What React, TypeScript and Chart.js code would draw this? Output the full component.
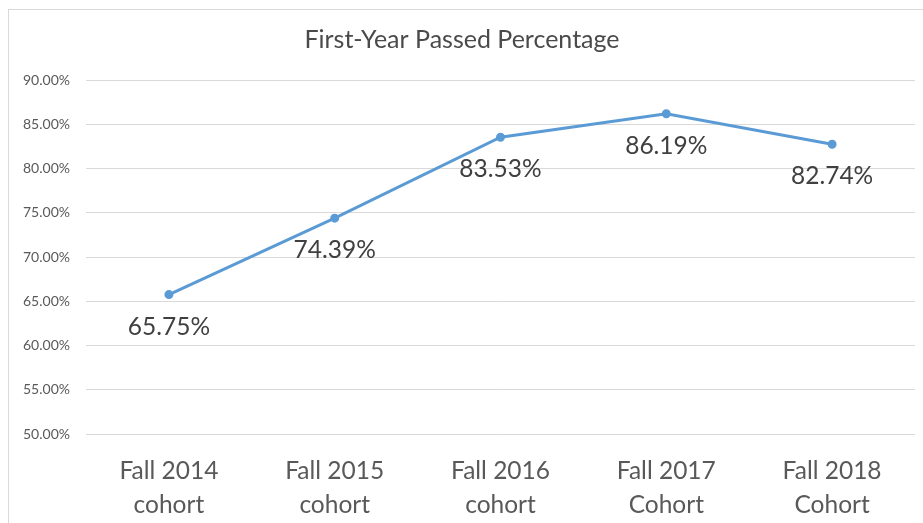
import React, { useEffect, useRef } from "react";
import { Chart, registerables } from "chart.js";

Chart.register(...registerables);

const categories: string[][] = [
  ["Fall 2014", "cohort"],
  ["Fall 2015", "cohort"],
  ["Fall 2016", "cohort"],
  ["Fall 2017", "Cohort"],
  ["Fall 2018", "Cohort"],
];
const passedPct: number[] = [65.75, 74.39, 83.53, 86.19, 82.74];
const chartTitle = "First-Year Passed Percentage";
const yMin = 50;
const yMax = 90;
const yStep = 5;

const FONT = "Lato, 'Open Sans', sans-serif";

const labelPlugin = {
  id: "pointLabels",
  afterDatasetsDraw(chart: any) {
    const meta = chart.getDatasetMeta(0);
    const ctx = chart.ctx;
    ctx.save();
    ctx.font = `24.5px ${FONT}`;
    ctx.fillStyle = "#404040";
    ctx.textAlign = "center";
    ctx.textBaseline = "middle";
    meta.data.forEach((pt: any, i: number) => {
      const v = chart.data.datasets[0].data[i] as number;
      ctx.fillText(v.toFixed(2) + "%", pt.x, pt.y + 32);
    });
    ctx.restore();
  },
};

export default function App() {
  const ref = useRef<HTMLCanvasElement | null>(null);
  useEffect(() => {
    if (!ref.current) return;
    const chart = new Chart(ref.current, {
      type: "line",
      data: {
        labels: categories,
        datasets: [
          {
            data: passedPct,
            borderColor: "#5B9BD5",
            backgroundColor: "#5B9BD5",
            borderWidth: 3,
            pointRadius: 3,
            pointHoverRadius: 3,
            tension: 0,
          },
        ],
      },
      options: {
        animation: false,
        responsive: false,
        layout: { padding: { left: 0, right: 8, top: 8, bottom: 0 } },
        plugins: {
          legend: { display: false },
          tooltip: { enabled: false },
          title: {
            display: true,
            text: chartTitle,
            color: "#4a4a4a",
            font: { family: FONT, size: 25, weight: "normal" },
            padding: { top: 7, bottom: 25 },
          },
        },
        scales: {
          x: {
            offset: true,
            grid: { display: false, drawTicks: false },
            border: { display: false },
            ticks: {
              color: "#595959",
              font: { family: FONT, size: 24.5, lineHeight: 1.35 },
              padding: 21,
              maxRotation: 0,
              autoSkip: false,
            },
            afterFit(scale: any) {
              scale.height = 89;
            },
          },
          y: {
            min: yMin,
            max: yMax,
            grid: { color: "#d9d9d9", lineWidth: 1, drawTicks: false },
            border: { display: false },
            ticks: {
              stepSize: yStep,
              color: "#595959",
              font: { family: FONT, size: 14 },
              padding: 16,
              callback: (v: any) => Number(v).toFixed(2) + "%",
            },
            afterFit(scale: any) {
              scale.width = 77;
            },
          },
        },
      },
      plugins: [labelPlugin],
    });
    return () => chart.destroy();
  }, []);

  return (
    <div
      style={{
        position: "fixed",
        left: 0,
        top: 0,
        width: 923,
        height: 523,
        background: "#fff",
        overflow: "hidden",
      }}
    >
      <div
        style={{
          position: "absolute",
          left: 8,
          top: 9,
          width: 920,
          height: 520,
          borderLeft: "1px solid #d9d9d9",
          borderTop: "1px solid #d9d9d9",
        }}
      >
        <canvas ref={ref} width={914} height={513} style={{ display: "block" }} />
      </div>
    </div>
  );
}
